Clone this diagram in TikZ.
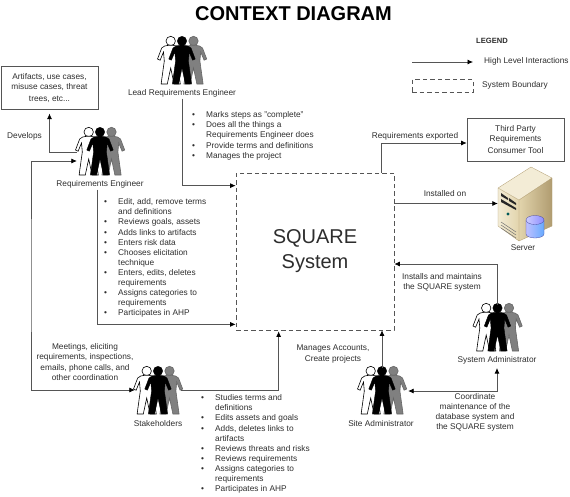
\documentclass[tikz,border=0pt]{standalone}
\usepackage{fontspec}
\setmainfont{Liberation Sans}
\usetikzlibrary{arrows.meta,positioning}
\definecolor{linegray}{RGB}{85,85,85}
\definecolor{textgray}{RGB}{45,45,45}
\definecolor{sandlight}{RGB}{243,236,214}
\definecolor{sandmid}{RGB}{226,212,172}
\definecolor{sanddark}{RGB}{176,156,112}
\newcommand{\bl}{\makebox[14pt][l]{\textbullet}}
\newcommand{\ct}{\hspace*{14pt}}
\tikzset{
  person/.pic={
    \path[pic actions] (0,0) circle (4.7);
    \path[pic actions] (1.6,4.2) -- (6,5) -- (9,7) -- (13.2,18) -- (10.6,19.2) -- (7.2,11) -- (6.4,20) -- (9.6,43)
      -- (3.4,43) -- (0,27) -- (-3.4,43) -- (-9.6,43) -- (-6.4,20) -- (-7.2,11) -- (-10.6,19.2) -- (-13.2,18)
      -- (-9,7) -- (-6,5) -- (-1.6,4.2) -- cycle;
  },
  team/.pic={
    \pic[draw=black,fill=white,line width=0.6pt] at (-11.3,-22) {person};
    \pic[draw=black!60,fill=black!50,line width=0.6pt] at (11.5,-22) {person};
    \pic[draw=black,fill=black] at (0,-22) {person};
  },
  teamnode/.style={minimum width=46pt, minimum height=50pt, inner sep=0pt},
  txt/.style={font=\fontsize{8.3}{10.1}\selectfont, text=textgray, align=center, inner sep=1pt},
  bullets/.style={txt, align=left, anchor=north west},
  flow/.style={-{Latex[length=5.5pt,width=5pt,color=black]}, line width=0.7pt, draw=linegray},
  twoway/.style={{Latex[length=5.5pt,width=5pt,color=black]}-{Latex[length=5.5pt,width=5pt,color=black]}, line width=0.7pt, draw=linegray},
  boundary/.style={draw=linegray, dashed, dash pattern=on 4.5pt off 3pt, line width=0.7pt},
  tool/.style={draw=linegray, line width=0.7pt, txt, inner sep=0pt}
}
\begin{document}
\begin{tikzpicture}[x=1pt,y=-1pt]
    \useasboundingbox (0,0) rectangle (570,496);

    % Title
    \node[font=\bfseries\fontsize{20}{24}\selectfont, inner sep=0pt] (title) at (293.5,14) {CONTEXT DIAGRAM};

    % Legend
    \node[txt, font=\bfseries\fontsize{7.6}{10}\selectfont] (legend) at (492,41) {LEGEND};
    \coordinate (legfrom) at (412,62);
    \coordinate (legto) at (473,62);
    \draw[flow] (legfrom) -- (legto);
    \node[txt, anchor=west] (leghigh) at (483,61) {High Level Interactions};
    \node[boundary, minimum width=61pt, minimum height=13pt, inner sep=0pt] (legbox) at (442.5,86) {};
    \node[txt, anchor=west] (legsys) at (481,85.5) {System Boundary};

    % SQUARE system
    \node[boundary, minimum width=158pt, minimum height=157pt, inner sep=0pt, align=center,
      font=\fontsize{20}{25}\selectfont, text=textgray] (square) at (315,251.5) {SQUARE\\System};

    % Boxes
    \node[tool, minimum width=97pt, minimum height=42.5pt] (artifacts) at (49.5,88) {Artifacts, use cases,\\misuse cases, threat\\[1.5pt]trees, etc...};
    \node[tool, minimum width=97pt, minimum height=43pt] (third) at (515.5,139.5) {Third Party\\Requirements\\[1.5pt]Consumer Tool};

    % Server
    \node[minimum width=54pt, minimum height=74pt, inner sep=0pt] (server) at (525,203.5) {};
    \fill[sandlight] (531,167) -- (498,188) -- (519,200) -- (552,178) -- cycle;
    \shade[left color=sandlight, right color=sandmid] (498,188) -- (519,200) -- (519,241) -- (498,226) -- cycle;
    \shade[left color=sandmid, right color=sanddark] (519,200) -- (552,178) -- (552,226) -- (519,241) -- cycle;
    \draw[line width=0.3pt, draw=sanddark] (531,167) -- (498,188) -- (498,226) -- (519,241) -- (552,226) -- (552,178) -- cycle (498,188) -- (519,200) -- (552,178) (519,200) -- (519,241);
    \fill[black!85] (501,193) -- (508,198) -- (508,200) -- (501,196) -- cycle;
    \fill[black!85] (509,198) -- (516,203) -- (516,205) -- (509,201) -- cycle;
    \fill[black!85] (501,199) -- (516,208) -- (516,210) -- (501,202) -- cycle;
    \fill[teal!70!black] (508,214) circle (1.6);
    \draw[black!55, line width=0.5pt] (501,222) -- (516,232) (501,225) -- (516,235) (501,228) -- (516,238);
    \shade[left color=blue!25!white, right color=blue!55!cyan!60!white, draw=blue!45!black!70, line width=0.3pt]
      (526,220) -- (526,234) arc[start angle=180, end angle=360, x radius=9, y radius=-4] -- (544,220) -- cycle;
    \shade[left color=blue!20!white, right color=blue!45!white, draw=blue!45!black!70, line width=0.3pt]
      (535,220) ellipse (9 and 4.5);
    \node[txt] (serverlabel) at (523,248) {Server};

    % Lead Requirements Engineer
    \node[teamnode] (lead) at (182,63) {};
    \pic at (lead) {team};
    \node[txt] (leadlabel) at (182,93.5) {Lead Requirements Engineer};
    \node[bullets] (leadlist) at (191,110.5) {\bl Marks steps as "complete"\\\bl Does all the things a\\\ct Requirements Engineer does\\\bl Provide terms and definitions\\\bl Manages the project};

    % Requirements Engineer
    \node[teamnode] (re) at (100,154) {};
    \pic at (re) {team};
    \node[txt] (relabel) at (100,184.5) {Requirements Engineer};
    \node[bullets] (relist) at (103,197.5) {\bl Edit, add, remove terms\\\ct and definitions\\\bl Reviews goals, assets\\\bl Adds links to artifacts\\\bl Enters risk data\\\bl Chooses elicitation\\\ct technique\\\bl Enters, edits, deletes\\\ct requirements\\\bl Assigns categories to\\\ct requirements\\\bl Participates in AHP};

    % Stakeholders
    \node[teamnode] (stake) at (158,393) {};
    \pic at (stake) {team};
    \node[txt] (stakelabel) at (158,424) {Stakeholders};
    \node[bullets] (stakelist) at (200,393.5) {\bl Studies terms and\\\ct definitions\\\bl Edits assets and goals\\\bl Adds, deletes links to\\\ct artifacts\\\bl Reviews threats and risks\\\bl Reviews requirements\\\bl Assigns categories to\\\ct requirements\\\bl Participates in AHP};

    % Site Administrator
    \node[teamnode] (site) at (382,393) {};
    \pic at (site) {team};
    \node[txt] (sitelabel) at (381,424) {Site Administrator};

    % System Administrator
    \node[teamnode] (sys) at (497.5,330) {};
    \pic at (sys) {team};
    \node[txt] (syslabel) at (497,360) {System Administrator};

    % Connector labels
    \node[txt] (developslabel) at (24.5,136) {Develops};
    \node[txt] (meetlabel) at (85,362) {Meetings, eliciting\\requirements, inspections,\\emails, phone calls, and\\other coordination};
    \node[txt] (exportlabel) at (415,136) {Requirements exported};
    \node[txt] (installedlabel) at (445,194) {Installed on};
    \node[txt] (installslabel) at (442,282) {Installs and maintains\\the SQUARE system};
    \node[txt] (manageslabel) at (333,354) {Manages Accounts,\\Create projects};
    \node[txt] (coordlabel) at (475,412) {Coordinate\\maintenance of the\\database system and\\the SQUARE system};

    % Connectors
    \coordinate (leftbend) at (31,275);
    \draw[flow] ([yshift=2pt]re.west) -| ([yshift=-4pt]artifacts.south);
    \draw[twoway] ([yshift=-7pt]re.west) -| (leftbend) |- ([yshift=3pt]stake.west);
    \draw[flow] (leadlabel.south) |- ([yshift=-13pt]square.north west);
    \draw[flow] ([xshift=-3pt]relabel.south) |- ([yshift=6pt]square.south west);
    \draw[flow] ([yshift=3pt]stake.east) -| ([xshift=43pt,yshift=-1pt]square.south west);
    \draw[flow] (site.north) -- (site.north |- square.south);
    \draw[flow] (sys.north) |- ([yshift=-12.5pt]square.east);
    \draw[twoway] ([yshift=2pt,xshift=3pt]site.east) -| ([yshift=-3pt]syslabel.south);
    \draw[flow] ([xshift=-13pt]square.north east) |- ([yshift=-3.5pt]third.west);
    \draw[flow] ([yshift=48pt]square.east) -- (server.west);
\end{tikzpicture}
\end{document}
